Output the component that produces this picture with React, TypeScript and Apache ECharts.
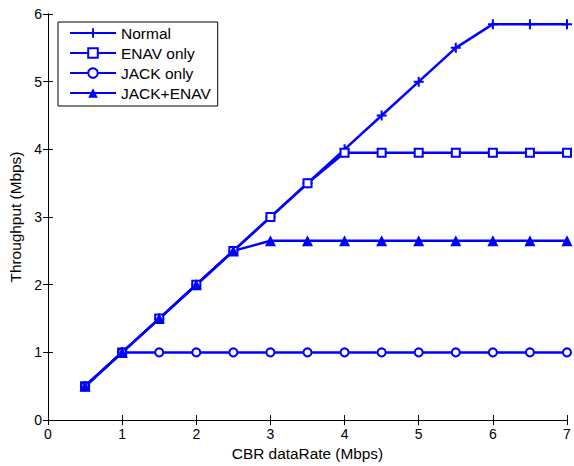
import React, { useEffect, useRef } from "react";
import * as echarts from "echarts";

const xValues = [0.5, 1, 1.5, 2, 2.5, 3, 3.5, 4, 4.5, 5, 5.5, 6, 6.5, 7];
const normal = [0.5, 1, 1.5, 2, 2.5, 3, 3.5, 4, 4.5, 5, 5.5, 5.85, 5.85, 5.85];
const enavOnly = [0.5, 1, 1.5, 2, 2.5, 3, 3.5, 3.95, 3.95, 3.95, 3.95, 3.95, 3.95, 3.95];
const jackOnly = [0.5, 1, 1, 1, 1, 1, 1, 1, 1, 1, 1, 1, 1, 1];
const jackEnav = [0.5, 1, 1.5, 2, 2.5, 2.65, 2.65, 2.65, 2.65, 2.65, 2.65, 2.65, 2.65, 2.65];
const seriesNames = ["Normal", "ENAV only", "JACK only", "JACK+ENAV"];

const BLUE = "#0000ff";
const FONT = "Liberation Sans, Arial, sans-serif";
const PLUS = "path://M4,0 H6 V4 H10 V6 H6 V10 H4 V6 H0 V4 H4 Z";

export default function App() {
  const ref = useRef<HTMLDivElement>(null);
  useEffect(() => {
    const chart = echarts.init(ref.current!, null, { renderer: "svg" });
    const pair = (ys: number[]) => xValues.map((x, i) => [x, ys[i]]);
    const mk = (name: string, ys: number[], symbol: string, size: number, filled: boolean) => ({
      name,
      type: "line",
      data: pair(ys),
      symbol,
      symbolSize: size,
      showSymbol: true,
      lineStyle: { color: BLUE, width: 2.5 },
      itemStyle: {
        color: filled ? BLUE : "#ffffff",
        borderColor: BLUE,
        borderWidth: filled ? 0 : 2,
      },
      emphasis: { disabled: true },
    });
    const axisCommon = {
      axisLine: { show: true, lineStyle: { color: "#000", width: 1 } },
      axisTick: { show: true, inside: true, length: 5, lineStyle: { color: "#000" } },
      splitLine: { show: false },
    };
    chart.setOption({
      animation: false,
      backgroundColor: "#ffffff",
      textStyle: { fontFamily: FONT },
      grid: { left: 48, right: 7, top: 14, bottom: 41 },
      legend: {
        orient: "vertical",
        left: 58,
        top: 22,
        data: seriesNames,
        itemWidth: 46,
        itemHeight: 12,
        itemGap: 4,
        padding: [3, 7, 5, 11],
        borderColor: "#000",
        borderWidth: 1,
        backgroundColor: "#fff",
        textStyle: { fontFamily: FONT, fontSize: 15.5, color: "#000" },
      },
      xAxis: [
        {
          type: "value",
          min: 0,
          max: 7,
          interval: 1,
          name: "CBR dataRate (Mbps)",
          nameLocation: "middle",
          nameGap: 22,
          nameTextStyle: { fontSize: 15.4, color: "#000", fontFamily: FONT },
          axisLabel: { fontSize: 14, color: "#000", margin: 7, fontFamily: FONT },
          ...axisCommon,
        },
        {
          type: "value",
          position: "top",
          min: 0,
          max: 7,
          interval: 1,
          axisLabel: { show: false },
          ...axisCommon,
        },
      ],
      yAxis: [
        {
          type: "value",
          min: 0,
          max: 6,
          interval: 1,
          name: "Throughput (Mbps)",
          nameLocation: "middle",
          nameGap: 21,
          nameTextStyle: { fontSize: 15.4, color: "#000", fontFamily: FONT },
          axisLabel: { fontSize: 14, color: "#000", margin: 6, fontFamily: FONT },
          ...axisCommon,
        },
        {
          type: "value",
          position: "right",
          min: 0,
          max: 6,
          interval: 1,
          axisLabel: { show: false },
          ...axisCommon,
        },
      ],
      series: [
        mk("Normal", normal, PLUS, 10, true),
        mk("ENAV only", enavOnly, "rect", 8, false),
        mk("JACK only", jackOnly, "circle", 8, false),
        mk("JACK+ENAV", jackEnav, "triangle", 11, true),
      ],
    });
    return () => chart.dispose();
  }, []);
  return (
    <div
      ref={ref}
      style={{ position: "absolute", left: 0, top: 0, width: 574, height: 466 }}
    />
  );
}
